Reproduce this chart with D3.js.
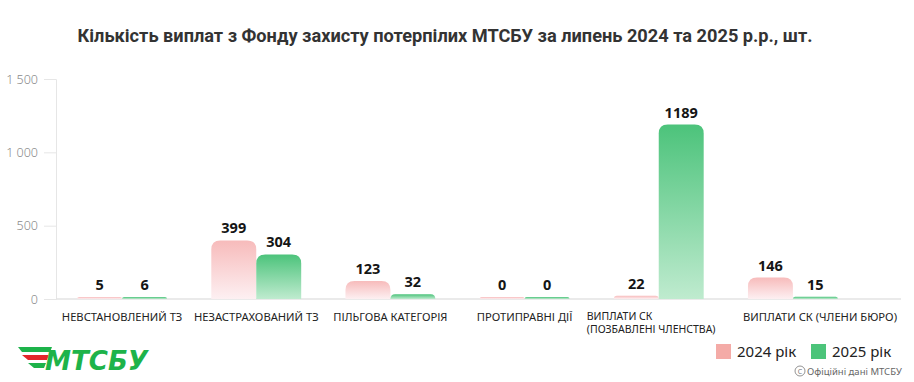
<!DOCTYPE html>
<html>
<head>
<meta charset="utf-8">
<script src="https://cdn.jsdelivr.net/npm/d3@7"></script>
<style>
  html, body { margin: 0; padding: 0; background: #fff; }
  svg { display: block; }
</style>
</head>
<body>
<svg id="chart" width="914" height="382"></svg>
<script>
const title = "Кількість виплат з Фонду захисту потерпілих МТСБУ за липень 2024 та 2025 р.р., шт.";
const categories = [
  "НЕВСТАНОВЛЕНИЙ ТЗ",
  "НЕЗАСТРАХОВАНИЙ ТЗ",
  "ПІЛЬГОВА КАТЕГОРІЯ",
  "ПРОТИПРАВНІ ДІЇ",
  "ВИПЛАТИ СК (ПОЗБАВЛЕНІ ЧЛЕНСТВА)",
  "ВИПЛАТИ СК (ЧЛЕНИ БЮРО)"
];
const categoryLines = [
  ["НЕВСТАНОВЛЕНИЙ ТЗ"],
  ["НЕЗАСТРАХОВАНИЙ ТЗ"],
  ["ПІЛЬГОВА КАТЕГОРІЯ"],
  ["ПРОТИПРАВНІ ДІЇ"],
  ["ВИПЛАТИ СК", "(ПОЗБАВЛЕНІ ЧЛЕНСТВА)"],
  ["ВИПЛАТИ СК (ЧЛЕНИ БЮРО)"]
];
const seriesNames = ["2024 рік", "2025 рік"];
const values2024 = [5, 399, 123, 0, 22, 146];
const values2025 = [6, 304, 32, 0, 1189, 15];
const yTicks = [0, 500, 1000, 1500];
const yTickLabels = ["0", "500", "1 000", "1 500"];
const footerText = "Офіційні дані МТСБУ";
const logoText = "МТСБУ";

const svg = d3.select("#chart");
const defs = svg.append("defs");

const colors = {
  "2024 рік": { top: "#f7bbbb", bottom: "#fdf0f2", legend: "#f4aba7" },
  "2025 рік": { top: "#4cc37b", bottom: "#bfebcf", legend: "#4cc47a" }
};
seriesNames.forEach((s, i) => {
  const g = defs.append("linearGradient").attr("id", "grad" + i)
    .attr("x1", 0).attr("y1", 0).attr("x2", 0).attr("y2", 1);
  g.append("stop").attr("offset", "0%").attr("stop-color", colors[s].top);
  g.append("stop").attr("offset", "100%").attr("stop-color", colors[s].bottom);
});

const font = "'Noto Sans', 'Open Sans', sans-serif";

// Title
svg.append("text")
  .attr("x", 445).attr("y", 42)
  .attr("text-anchor", "middle")
  .attr("font-family", "Roboto, sans-serif")
  .attr("font-weight", 700)
  .attr("font-size", 18.2)
  .attr("fill", "#333")
  .text(title);

const y = d3.scaleLinear().domain([0, 1500]).range([299, 79]);
const x = d3.scaleBand().domain(categories).range([55, 860])
  .paddingInner(0.33).paddingOuter(0.165);
const xs = d3.scaleBand().domain(seriesNames).range([0, x.bandwidth()]).padding(0);

// Y axis
const yAxis = d3.axisLeft(y).tickValues(yTicks)
  .tickFormat((d, i) => yTickLabels[i]).tickSize(12).tickPadding(6);
const yg = svg.append("g").attr("transform", "translate(56,0)").call(yAxis);
yg.select(".domain").attr("stroke", "#e6e6e6");
yg.selectAll(".tick line").attr("stroke", "#e6e6e6");
yg.selectAll(".tick text")
  .attr("font-family", font).attr("font-size", 12.5).attr("font-weight", 300)
  .attr("fill", "#8a8a8a");

// Baseline
svg.append("line")
  .attr("x1", 56).attr("x2", 901)
  .attr("y1", y(0)).attr("y2", y(0))
  .attr("stroke", "#e3e3e3").attr("stroke-width", 1.5);

// Bars
function barPath(x0, w, top, bottom, r) {
  const h = bottom - top;
  const rr = Math.min(r, h, w / 2);
  return `M${x0},${bottom} V${top + rr} Q${x0},${top} ${x0 + rr},${top} H${x0 + w - rr} Q${x0 + w},${top} ${x0 + w},${top + rr} V${bottom} Z`;
}
const data = categories.map((c, i) => ({ cat: c, vals: [values2024[i], values2025[i]] }));
const groups = svg.append("g").selectAll("g").data(data).join("g")
  .attr("transform", d => `translate(${x(d.cat)},0)`);
seriesNames.forEach((s, si) => {
  groups.append("path")
    .attr("d", d => {
      const bottom = y(0);
      const top = Math.min(y(d.vals[si]), bottom - 2);
      return barPath(xs(s), xs.bandwidth(), top, bottom, 9);
    })
    .attr("fill", `url(#grad${si})`);
  groups.append("text")
    .attr("x", xs(s) + xs.bandwidth() / 2)
    .attr("y", d => Math.min(y(d.vals[si]), y(0) - 2) - 7)
    .attr("text-anchor", "middle")
    .attr("font-family", font).attr("font-weight", 700).attr("font-size", 14.5)
    .attr("fill", "#151515")
    .text(d => d.vals[si]);
});

// Category labels
categories.forEach((c, i) => {
  const lines = categoryLines[i];
  const cx = x(c) + x.bandwidth() / 2;
  if (i === 4) {
    lines.forEach((ln, li) => {
      svg.append("text")
        .attr("font-family", font).attr("font-size", 10.5).attr("fill", "#222")
        .attr("text-anchor", "start")
        .attr("x", x(c) - 27).attr("y", 319.5 + li * 13.5).text(ln);
    });
  } else {
    const t = svg.append("text")
      .attr("font-family", font).attr("font-size", 11.2).attr("fill", "#222")
      .attr("y", 321);
    if (i === 5) t.attr("x", x(c) - 5).attr("text-anchor", "start").text(lines[0]);
    else t.attr("x", cx).attr("text-anchor", "middle").text(lines[0]);
  }
});

// Legend
const legend = svg.append("g");
const legendX = [716, 811];
seriesNames.forEach((s, i) => {
  legend.append("rect").attr("x", legendX[i]).attr("y", 344)
    .attr("width", 15).attr("height", 15).attr("fill", colors[s].legend);
  legend.append("text").attr("x", legendX[i] + 21).attr("y", 357)
    .attr("font-family", font).attr("font-size", 15).attr("fill", "#222")
    .text(s);
});

// Footer
svg.append("circle").attr("cx", 800).attr("cy", 371).attr("r", 5)
  .attr("fill", "none").attr("stroke", "#777").attr("stroke-width", 0.8);
svg.append("text").attr("x", 800).attr("y", 373.5).attr("text-anchor", "middle")
  .attr("font-family", font).attr("font-size", 7).attr("fill", "#777").text("C");
svg.append("text").attr("x", 807).attr("y", 375)
  .attr("font-family", font).attr("font-size", 9.5).attr("fill", "#666")
  .text(footerText);

// Logo
const logo = svg.append("g");
logo.append("polygon").attr("points", "18,347 52,347 50,352 22,352").attr("fill", "#1db34a");
logo.append("polygon").attr("points", "22,355 49,355 47,360 28,360").attr("fill", "#e3262a");
logo.append("polygon").attr("points", "28,363 46,363 44,368 34,368").attr("fill", "#1db34a");
logo.append("text").attr("x", 45).attr("y", 370)
  .attr("font-family", "'DejaVu Sans', sans-serif").attr("font-weight", 700)
  .attr("font-style", "italic").attr("font-size", 27).attr("fill", "#1db34a")
  .attr("textLength", 103).attr("lengthAdjust", "spacingAndGlyphs")
  .text(logoText);
</script>
</body>
</html>
